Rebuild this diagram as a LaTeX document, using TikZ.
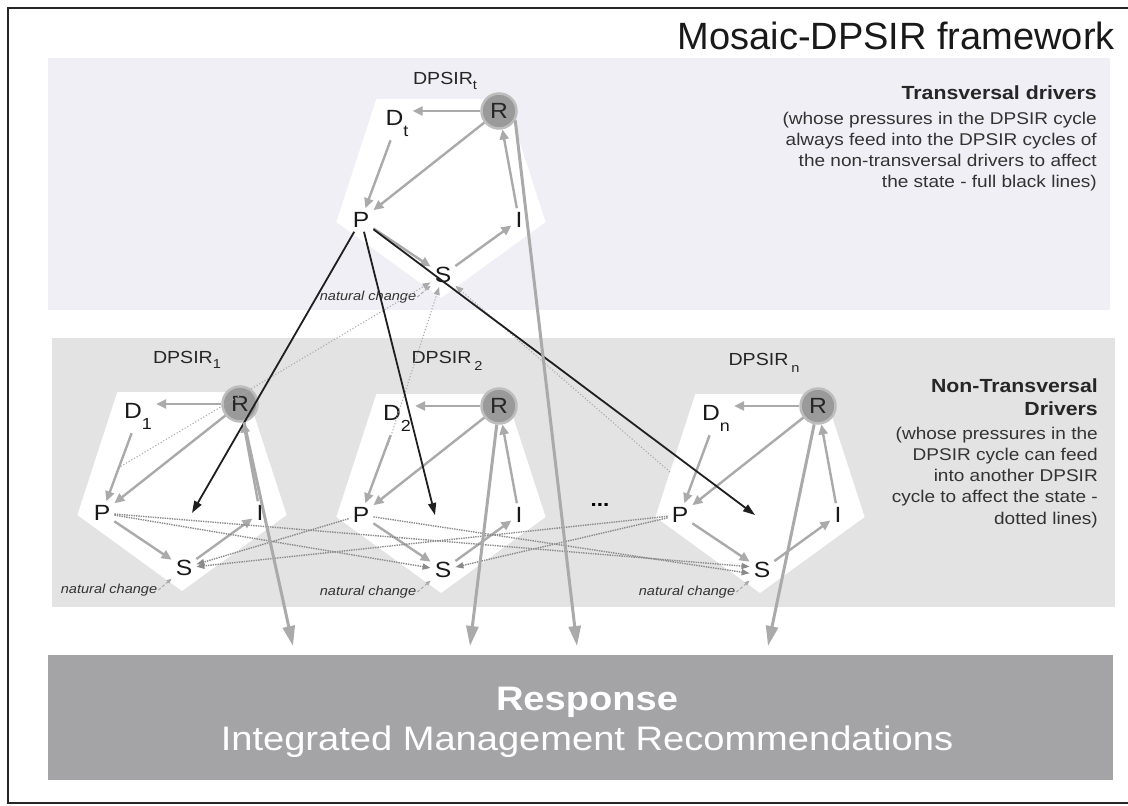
\documentclass[tikz,border=0pt]{standalone}
\usepackage{fontspec}
\setmainfont{Liberation Sans}[FakeStretch=1.12]
\newfontfamily\titlefont{Liberation Sans}
\usetikzlibrary{arrows.meta}

\definecolor{topband}{HTML}{EFEFF5}
\definecolor{midband}{HTML}{E3E3E3}
\definecolor{respgray}{HTML}{A4A4A7}
\definecolor{flowgray}{HTML}{AAAAAA}
\definecolor{dotgray}{HTML}{8A8A8A}
\definecolor{rgray}{HTML}{9A9A9A}

% lowered subscript: depth, size, text
\newcommand{\lowsub}[3]{\raisebox{#1}{\fontsize{#2}{#2}\selectfont #3}}

\begin{document}
\begin{tikzpicture}[x=1pt,y=-1pt]
	\tikzstyle{letter}=[inner sep=4pt, text=black!90, font=\fontsize{22}{22}\selectfont]
	\tikzstyle{rcircle}=[circle, fill=rgray, draw=rgray!65, line width=2.5pt, minimum size=35pt, inner sep=0pt, text=black!85, font=\fontsize{22}{22}\selectfont]
	\tikzstyle{nat}=[inner sep=1pt, text=black!80, font=\fontsize{13}{13}\selectfont\itshape]
	\tikzstyle{cyclelabel}=[inner sep=0pt, text=black!85, font=\fontsize{17.5}{17.5}\selectfont]
	\tikzstyle{sidehead}=[inner sep=0pt, align=right, text=black!85, font=\bfseries\fontsize{19}{23}\selectfont]
	\tikzstyle{sidebody}=[inner sep=0pt, align=right, text=black!80, font=\fontsize{17}{21}\selectfont]
	\tikzstyle{flow}=[draw=flowgray, line width=2.4pt, -{Triangle[length=10pt,width=9pt]}]
	\tikzstyle{natflow}=[draw=flowgray, densely dashed, line width=1pt, -{Triangle[length=5pt,width=4pt]}]
	\tikzstyle{cross}=[draw=dotgray, densely dotted, line width=1.4pt, -{Triangle[length=8pt,width=6pt]}]
	\tikzstyle{feed}=[draw=flowgray, dotted, line width=1.1pt, -{Triangle[length=8pt,width=6pt]}]
	\tikzstyle{trans}=[draw=black!88, line width=1.8pt, -{Triangle[length=12pt,width=8pt]}]
	\tikzstyle{resflow}=[draw=flowgray, line width=3pt, -{Triangle[length=20pt,width=12pt]}]

	\useasboundingbox (0,0) rectangle (1128,806);
	\clip (0,0) rectangle (1128,806);
	\fill[white] (0,0) rectangle (1128,806);
	\draw[black!85, line width=2.5pt] (8,8) rectangle (1140,803);

	% bands
	\fill[topband] (48,58) rectangle (1110,310);
	\fill[midband] (52,338) rectangle (1115,607);

	% one DPSIR cycle each
	\foreach \n/\cx/\cy/\tx in {t/441/188/446, 1/182/481/192, 2/441/483/435, n/760/483/755}{
		\fill[white, shift={(\cx,\cy)}] (18:110) -- (90:110) -- (162:110) -- (234:110) -- (306:110) -- cycle;
		\node[letter] (D\n) at (\cx-44,\cy-65) {D\lowsub{-11pt}{16}{\n}};
		\node[rcircle] (R\n) at (\cx+58,\cy-77) {R};
		\node[letter] (P\n) at (\cx-80,\cy+32) {P};
		\node[letter] (I\n) at (\cx+78,\cy+32) {I};
		\node[letter] (S\n) at (\cx+2,\cy+87) {S};
		\node[nat] (N\n) at (\cx-73,\cy+109) {natural change};
		\coordinate (T\n) at (\tx,\cy+32);
		\draw[flow] (R\n.west) -- (R\n.west -| D\n.east);
		\draw[flow] (D\n) -- (P\n);
		\draw[flow] (R\n) -- (P\n);
		\draw[flow] (P\n) -- (S\n);
		\draw[flow] (S\n) -- (I\n);
		\draw[flow] (I\n) -- (R\n);
		\draw[natflow] (N\n.east) -- (S\n);
	}

	\node[cyclelabel] (Lt) at (445,81) {DPSIR\lowsub{-5pt}{13}{t}};
	\node[cyclelabel] (L1) at (187,360) {DPSIR\lowsub{-5pt}{13}{1}};
	\node[cyclelabel] (L2) at (447,361) {DPSIR\,\lowsub{-7pt}{13}{2}};
	\node[cyclelabel] (Ln) at (764,363) {DPSIR\,\lowsub{-7pt}{13}{n}};
	\node[font=\bfseries\fontsize{20}{20}\selectfont] (dots) at (600,505) {...};

	% dotted feeds into the state of another cycle
	\draw[cross] (P1) -- (S2);
	\draw[cross] (P1) -- (Sn.165);
	\draw[cross] (P2) -- (S1);
	\draw[cross] (P2) -- (Sn.195);
	\draw[cross] (Pn) -- (S1);
	\draw[cross] (Pn) -- (S2);

	\coordinate (F1) at (118,468);
	\coordinate (F2) at (388,445);
	\coordinate (Fn) at (670,472);
	\draw[feed] (F1) -- (St);
	\draw[feed] (F2) -- (St);
	\draw[feed] (Fn) -- (St);

	% transversal pressures
	\draw[trans] (Pt) -- (T1);
	\draw[trans] (Pt) -- (T2);
	\draw[trans] (Pt) -- (Tn);

	% response
	\node[fill=respgray, anchor=north west, minimum width=1065pt, minimum height=125pt, inner sep=0pt] (resp) at (48,655) {};
	\node[text=white, align=center, font=\fontsize{34}{40}\selectfont] (resptext) at (587,722) {\textbf{Response}\\Integrated Management Recommendations};
	\coordinate (in1) at (293,646);
	\coordinate (in2) at (470,646);
	\coordinate (in3) at (577,646);
	\coordinate (in4) at (768,646);
	\draw[resflow] (R1) -- (in1);
	\draw[resflow] (R2) -- (in2);
	\draw[resflow] (Rt.-30) -- (in3);
	\draw[resflow] (Rn) -- (in4);

	% texts
	\node[anchor=east, inner sep=0pt, text=black!90, font=\titlefont\fontsize{38}{38}\selectfont] (title) at (1115,36) {Mosaic-DPSIR framework};
	\node[sidehead, anchor=east] (th) at (1097,93) {Transversal drivers};
	\node[sidebody, anchor=north east] (tb) at (1097,111.5) {(whose pressures in the DPSIR cycle\\always feed into the DPSIR cycles of\\the non-transversal drivers to affect\\the state - full black lines)};
	\node[sidehead, anchor=north east] (nh) at (1098,379) {Non-Transversal\\Drivers};
	\node[sidebody, anchor=north east, font=\fontsize{17}{21.3}\selectfont] (nb) at (1098,426.5) {(whose pressures in the\\DPSIR cycle can feed\\into another DPSIR\\cycle to affect the state -\\dotted lines)};
\end{tikzpicture}
\end{document}
